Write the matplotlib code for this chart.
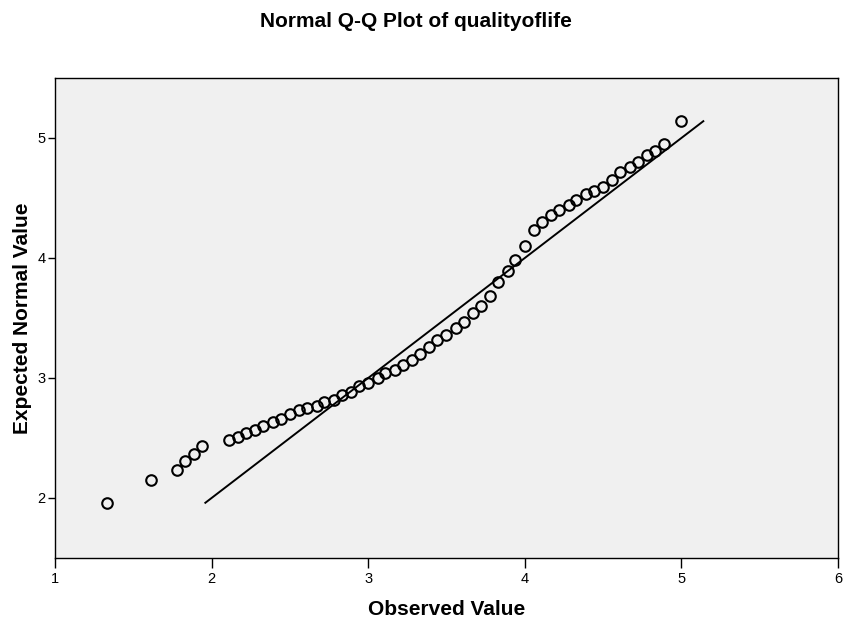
import numpy as np
import matplotlib
matplotlib.use('Agg')
import matplotlib.pyplot as plt

# observed scores and their expected normal values
observed = [1.33, 1.61, 1.78, 1.83, 1.89, 1.94,
            2.11, 2.17, 2.22, 2.28, 2.33, 2.39, 2.44, 2.50, 2.56, 2.61, 2.67, 2.72,
            2.78, 2.83, 2.89, 2.94, 3.00,
            3.06, 3.11, 3.17, 3.22, 3.28, 3.33, 3.39, 3.44, 3.50, 3.56, 3.61, 3.67, 3.72,
            3.78, 3.83, 3.89, 3.94, 4.00, 4.06, 4.11, 4.17, 4.22,
            4.28, 4.33, 4.39, 4.44, 4.50, 4.56, 4.61, 4.67, 4.72, 4.78, 4.83, 4.89,
            5.00]
expected = [1.96, 2.15, 2.23, 2.31, 2.37, 2.43,
            2.48, 2.51, 2.54, 2.57, 2.60, 2.63, 2.66, 2.70, 2.73, 2.75, 2.77, 2.80,
            2.82, 2.86, 2.88, 2.93, 2.96,
            3.00, 3.04, 3.07, 3.11, 3.15, 3.20, 3.26, 3.32, 3.36, 3.42, 3.47, 3.54, 3.60,
            3.68, 3.80, 3.89, 3.98, 4.10, 4.23, 4.30, 4.36, 4.40,
            4.44, 4.48, 4.53, 4.56, 4.59, 4.65, 4.72, 4.76, 4.80, 4.86, 4.89, 4.95,
            5.14]

x_ticks = [1, 2, 3, 4, 5, 6]
y_ticks = [2, 3, 4, 5]

plt.rcParams['font.family'] = ['Liberation Sans', 'DejaVu Sans']

fig = plt.figure(figsize=(8.45, 6.24), dpi=100)
ax = fig.add_axes([0.0651, 0.1058, 0.9266, 0.7692])
ax.set_facecolor('#f0f0f0')

# reference line y = x across the range of expected values
lo, hi = min(expected), max(expected)
ax.plot([lo, hi], [lo, hi], color='black', lw=1.4, zorder=2)

ax.plot(observed, expected, linestyle='none', marker='o', markersize=7.6,
        markerfacecolor='none', markeredgecolor='black', markeredgewidth=1.5, zorder=3)

ax.set_xlim(1, 6)
ax.set_ylim(1.5, 5.5)
ax.set_xticks(x_ticks)
ax.set_yticks(y_ticks)
ax.tick_params(axis='x', direction='out', length=7, width=1, labelsize=10.5, pad=3)
ax.tick_params(axis='y', direction='out', length=5, width=1, labelsize=10.5, pad=2)
for s in ax.spines.values():
    s.set_linewidth(1.0)
    s.set_color('black')

ax.set_xlabel('Observed Value', fontsize=15, fontweight='bold', labelpad=10)
ax.set_ylabel('Expected Normal Value', fontsize=15, fontweight='bold', labelpad=4)
fig.text(0.492, 0.965, 'Normal Q-Q Plot of qualityoflife', ha='center', va='center',
         fontsize=15, fontweight='bold')

fig.savefig('out.png', dpi=100)
